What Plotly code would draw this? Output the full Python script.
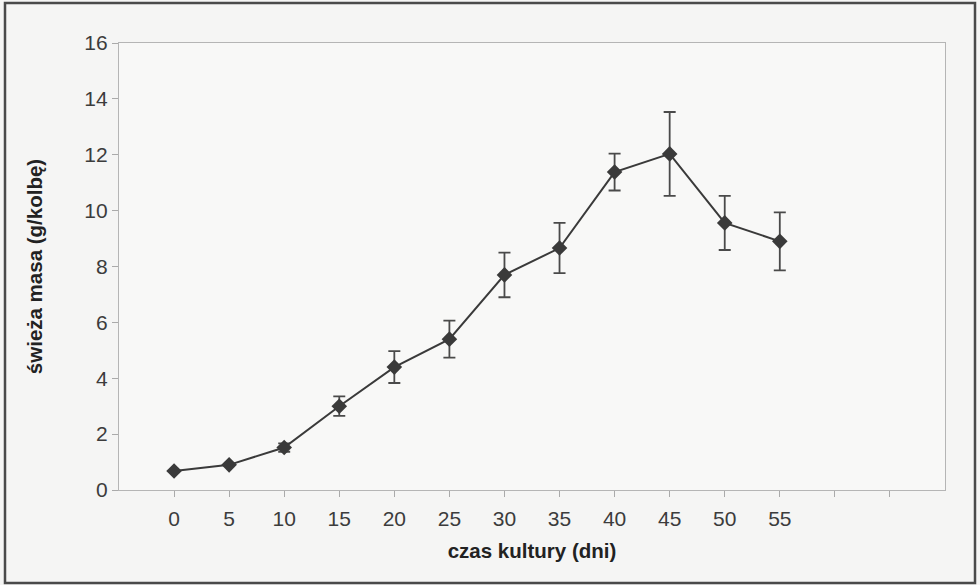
import plotly.graph_objects as go

days = [0, 5, 10, 15, 20, 25, 30, 35, 40, 45, 50, 55]
fresh_mass = [0.68, 0.9, 1.52, 3.0, 4.4, 5.4, 7.7, 8.66, 11.38, 12.03, 9.56, 8.9]
error = [0.0, 0.0, 0.15, 0.35, 0.57, 0.66, 0.8, 0.9, 0.66, 1.5, 0.97, 1.04]
x_tickvals = [0, 5, 10, 15, 20, 25, 30, 35, 40, 45, 50, 55, 60, 65]
x_ticktext = ["0", "5", "10", "15", "20", "25", "30", "35", "40", "45", "50", "55", "", ""]
y_tickvals = [0, 2, 4, 6, 8, 10, 12, 14, 16]

W, H = 980, 585
L, R, T, B = 119, 35, 43, 95
pw, ph = W - L - R, H - T - B

def px(xp):
    return (xp - L) / pw

def py(yp):
    return (H - B - yp) / ph

fig = go.Figure()
fig.add_trace(go.Scatter(
    x=days, y=fresh_mass,
    mode="lines+markers",
    line=dict(color="#3a3a3a", width=2),
    marker=dict(symbol="diamond", size=12, color="#3a3a3a"),
    error_y=dict(type="data", array=error, visible=True, color="#4a4a4a",
                 thickness=1.8, width=6),
    showlegend=False,
))

fig.update_layout(
    width=W, height=H,
    margin=dict(l=L, r=R, t=T, b=B),
    paper_bgcolor="#f5f5f4",
    plot_bgcolor="#f8f8f7",
    font=dict(family="Liberation Sans, Arial, sans-serif", color="#3c3c3c", size=21),
    xaxis=dict(
        range=[-5, 70],
        tickvals=x_tickvals, ticktext=x_ticktext,
        ticks="outside", ticklen=6, tickcolor="#aaaaaa", tickwidth=1,
        ticklabelstandoff=4,
        showgrid=False, zeroline=False,
        showline=True, linecolor="#b5b5b5", linewidth=1.2, mirror=True,
        tickfont=dict(size=21, color="#3c3c3c"),
        title=dict(text="<b>czas kultury (dni)</b>", font=dict(size=20.5, color="#222222"),
                   standoff=14),
    ),
    yaxis=dict(
        range=[0, 16],
        tickvals=y_tickvals,
        ticks="outside", ticklen=6, tickcolor="#aaaaaa", tickwidth=1,
        showgrid=False, zeroline=False,
        showline=True, linecolor="#b5b5b5", linewidth=1.2, mirror=True,
        tickfont=dict(size=21, color="#3c3c3c"),
        title=dict(text="<b>świeża masa (g/kolbę)</b>", font=dict(size=20.5, color="#222222"),
                   standoff=36),
    ),
)

fig.add_shape(type="rect", xref="paper", yref="paper",
              x0=px(5), x1=px(975), y0=py(583), y1=py(3),
              line=dict(color="#4a4a4a", width=2.5), layer="below")

fig.write_html("out.html", config={"displayModeBar": False},
               post_script="document.body.style.margin='0';document.body.style.overflow='hidden';")
